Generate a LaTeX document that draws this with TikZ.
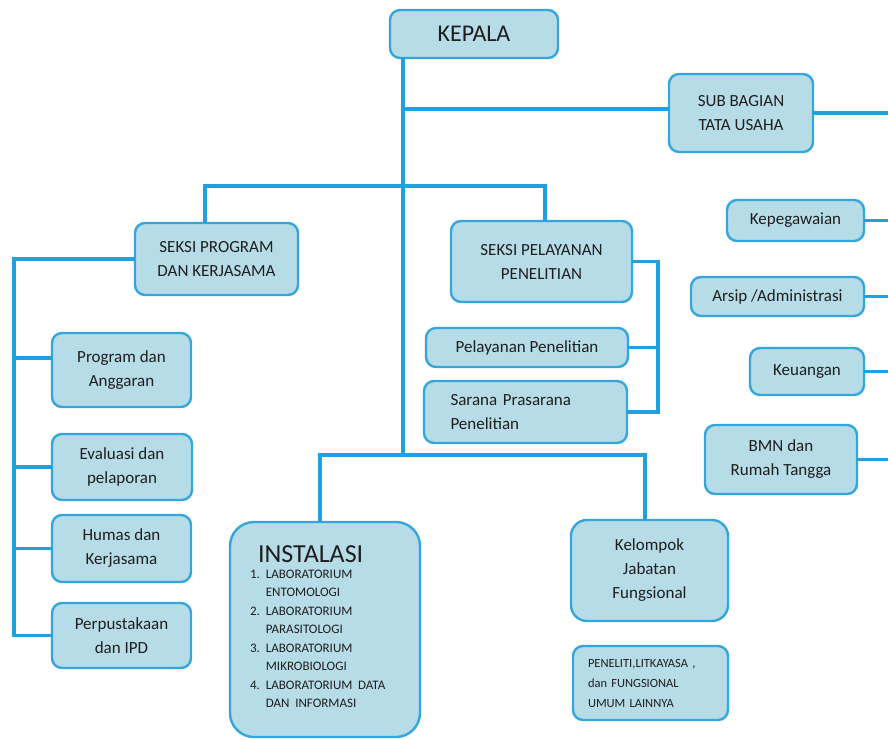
\documentclass[tikz,border=0pt]{standalone}
\usepackage{fontspec}
\setmainfont{Carlito}
\usepackage{tikz}
\definecolor{boxfill}{RGB}{182,220,232}
\definecolor{boxline}{RGB}{52,166,219}
\definecolor{linkblue}{RGB}{32,160,225}
\definecolor{textgray}{RGB}{30,30,30}
\tikzset{
    orgbox/.style={draw=boxline,fill=boxfill,rounded corners=10pt,line width=2.4pt,align=center,text=textgray,font=\fontsize{17}{24}\selectfont,inner sep=4pt},
    orgline/.style={draw=linkblue,line width=3.2pt,line cap=rect},
}

\begin{document}
\begin{tikzpicture}[x=1pt,y=-1pt]
            \useasboundingbox (0,0) rectangle (888,739);
            \fill[white] (0,0) rectangle (888,739);

            % junctions of the lines
            \coordinate (j0) at (403,109);
            \coordinate (bl) at (205,186);
            \coordinate (br) at (545,186);
            \coordinate (il) at (320,455);
            \coordinate (ir) at (645,455);
            \coordinate (j2) at (403,455);
            \coordinate (lx) at (14,0);
            \coordinate (rx) at (658,0);
            \coordinate (ex) at (888,0);

            \node[orgbox,minimum width=168,minimum height=48,font=\fontsize{24}{28}\selectfont] (kepala) at (474,34) {KEPALA};
            \node[orgbox,minimum width=144,minimum height=78] (subbag) at (741,113) {SUB BAGIAN\\TATA USAHA};

            \node[orgbox,minimum width=137,minimum height=41] (kepeg) at (795.5,220.5) {Kepegawaian}; % tata usaha
            \node[orgbox,minimum width=173,minimum height=39] (arsip) at (777.5,296.5) {Arsip /Administrasi};
            \node[orgbox,minimum width=114,minimum height=47] (keuangan) at (807,371.5) {Keuangan};
            \node[orgbox,minimum width=152,minimum height=69] (bmn) at (781,459.5) {BMN dan\\Rumah Tangga};

            \node[orgbox,minimum width=163,minimum height=72] (seksiprog) at (216.5,259) {SEKSI PROGRAM\\DAN KERJASAMA};
            \node[orgbox,minimum width=181,minimum height=81] (seksipel) at (541.5,261.5) {SEKSI PELAYANAN\\PENELITIAN};

            \node[orgbox,minimum width=202,minimum height=39] (pelayanan) at (527,347.5) {Pelayanan Penelitian};
            \node[orgbox,minimum height=62,text width=150,inner xsep=26.5,align=left] (sarana) at (525.5,412) {Sarana Prasarana\\Penelitian};

            \node[orgbox,minimum width=139,minimum height=74] (progang) at (121.5,370) {Program dan\\Anggaran}; % seksi program
            \node[orgbox,minimum width=140,minimum height=66] (evaluasi) at (122,467) {Evaluasi dan\\pelaporan};
            \node[orgbox,minimum width=139,minimum height=67] (humas) at (121.5,548.5) {Humas dan\\Kerjasama};
            \node[orgbox,minimum width=139,minimum height=65] (perpus) at (121.5,635.5) {Perpustakaan\\dan IPD};

            \node[orgbox,rounded corners=24pt,minimum height=215,text width=150,inner xsep=20,align=left] (instalasi) at (325,629.5) {%
                \hspace*{8pt}{\fontsize{26}{30}\selectfont INSTALASI}\\[2pt]
                {\fontsize{13}{18.5}\selectfont
                \begin{tabular}{@{}l@{\hspace{6pt}}l@{}}
                1. & LABORATORIUM\\ & ENTOMOLOGI\\
                2. & LABORATORIUM\\ & PARASITOLOGI\\
                3. & LABORATORIUM\\ & MIKROBIOLOGI\\
                4. & LABORATORIUM DATA\\ & DAN INFORMASI
                \end{tabular}}};

            \node[orgbox,rounded corners=16pt,minimum width=157,minimum height=101] (kelompok) at (649.5,570.5) {Kelompok\\Jabatan\\Fungsional};
            \node[orgbox,minimum height=74,text width=125,inner xsep=15,align=left,font=\fontsize{12.5}{20}\selectfont] (peneliti) at (650.5,683) {PENELITI,LITKAYASA ,\\dan FUNGSIONAL\\UMUM LAINNYA};

            % lines
            \draw[orgline] (kepala.south -| j0) -- (j2);
            \draw[orgline] (j0) -- (j0 -| subbag.west);
            \draw[orgline] (bl) -- (br);
            \draw[orgline] (bl) -- (bl |- seksiprog.north);
            \draw[orgline] (br) -- (br |- seksipel.north);
            \draw[orgline] (il) -- (ir);
            \draw[orgline] (il) -- (il |- instalasi.north);
            \draw[orgline] (ir) -- (ir |- kelompok.north);

            \draw[orgline] (seksiprog.west) -| (lx |- perpus.west) -- (perpus.west);
            \draw[orgline] (lx |- 0,358) -- ([yshift=12pt]progang.west);
            \foreach \n in {evaluasi,humas}
                \draw[orgline] (lx |- \n.west) -- (\n.west);

            \draw[orgline] (seksipel.east) -| (rx |- sarana.east) -- (sarana.east);
            \draw[orgline] (pelayanan.east) -- (rx |- pelayanan.east);

            \foreach \n in {subbag,kepeg,arsip,keuangan,bmn}
                \draw[orgline] (\n.east) -- (ex |- \n.east);
        \end{tikzpicture}
\end{document}
